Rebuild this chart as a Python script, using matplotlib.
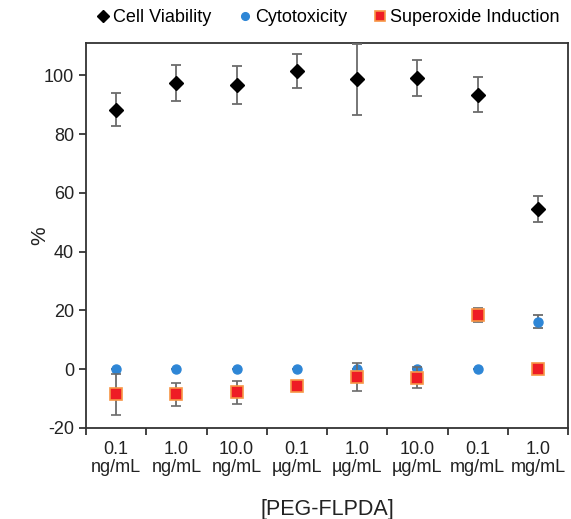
import matplotlib
matplotlib.use("Agg")
import matplotlib.pyplot as plt
import numpy as np

plt.rcParams['font.family'] = ['Liberation Sans', 'DejaVu Sans']
plt.rcParams['axes.unicode_minus'] = False

categories = ["0.1\nng/mL", "1.0\nng/mL", "10.0\nng/mL", "0.1\nµg/mL", "1.0\nµg/mL",
              "10.0\nµg/mL", "0.1\nmg/mL", "1.0\nmg/mL"]
viability = [88.3, 97.4, 96.6, 101.4, 98.6, 99.0, 93.4, 54.5]
viability_err = [5.7, 6.2, 6.5, 5.8, 12.1, 6.1, 6.0, 4.5]
cytotox = [0, 0, 0, 0, 0, 0, 0, 16.1]
cytotox_err = [0, 0, 0, 0, 0, 0, 0, 2.2]
superoxide = [-8.6, -8.6, -7.9, -5.7, -2.6, -2.9, 18.5, 0.0]
superoxide_err = [6.9, 3.8, 4.0, 1.5, 4.7, 3.5, 2.5, 1.5]

fig = plt.figure(figsize=(5.71, 5.19), dpi=100)
ax = fig.add_axes([86/571, 1-428/519, 482/571, 385/519])

x = np.arange(len(categories))
ecol = '#6b6b6b'
ax.errorbar(x, viability, yerr=viability_err, fmt='D', color='black', ms=7,
            ecolor=ecol, elinewidth=1.3, capsize=3.5, capthick=1.3, label='Cell Viability', zorder=3)
ax.errorbar(x, cytotox, yerr=cytotox_err, fmt='o', color='#2e86d6', ms=6.5,
            ecolor=ecol, elinewidth=1.3, capsize=3.5, capthick=1.3, label='Cytotoxicity', zorder=3)
ax.errorbar(x, superoxide, yerr=superoxide_err, fmt='s', mfc='#ee1c25', mec='#f79646', mew=1.2, ms=8.5,
            ecolor=ecol, elinewidth=1.3, capsize=3.5, capthick=1.3, label='Superoxide Induction', zorder=4)

ax.set_xlim(-0.5, len(categories) - 0.5)
ax.set_ylim(-20, 111)
ax.set_yticks([-20, 0, 20, 40, 60, 80, 100])
ax.set_xticks(x)
ax.set_xticklabels(categories, fontsize=13, color='#222222', linespacing=1.15)
ax.set_xticks(np.arange(-0.5, len(categories)), minor=True)
ax.tick_params(axis='x', which='major', length=0, pad=9)
ax.tick_params(axis='x', which='minor', length=5, width=1.2, color='#222222')
ax.tick_params(axis='y', length=5, width=1.2, labelsize=13, labelcolor='#222222', color='#222222')
for s in ax.spines.values():
    s.set_color('#333333')
    s.set_linewidth(1.3)

ax.set_ylabel('%', fontsize=15, color='#222222', labelpad=-4)
ax.set_xlabel('[PEG-FLPDA]', fontsize=15.5, color='#222222', labelpad=16)

h, l = ax.get_legend_handles_labels()
leg = fig.legend([hh[0] for hh in h], l, loc='center',
                 bbox_to_anchor=(327/571, 1-18/519), ncol=3, frameon=False, fontsize=13,
                 handletextpad=0.05, columnspacing=1.35, handlelength=1.0, markerscale=0.85,
                 borderaxespad=0, borderpad=0)

fig.savefig('out.png', dpi=100)
